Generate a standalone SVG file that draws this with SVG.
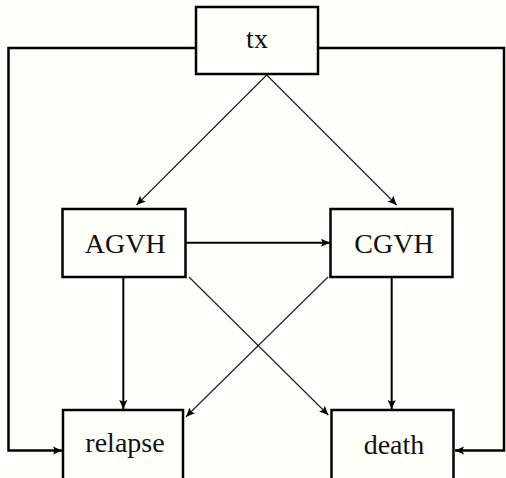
<svg xmlns="http://www.w3.org/2000/svg" width="506" height="478" viewBox="0 0 506 478">
<defs>
<style>
.box{fill:#fffffa;stroke:#000;stroke-width:2.5}
.lbl{font-family:"Liberation Serif","Times New Roman",serif;font-size:28px;fill:#111;text-anchor:middle}
.thick{fill:none;stroke:#000;stroke-width:2.5}
.med{fill:none;stroke:#000;stroke-width:2}
.thin{fill:none;stroke:#222;stroke-width:1.2}
</style>
<marker id="ah" viewBox="0 0 10 10" refX="10" refY="5" markerWidth="9" markerHeight="9" markerUnits="userSpaceOnUse" orient="auto">
<path d="M0,0.5 L10,5 L0,9.5 L2,5 Z" fill="#000"/>
</marker>
</defs>
<rect x="0" y="0" width="506" height="478" fill="#fffffa"/>
<g id="connectors">
<polyline class="thick" points="196,48 8.5,48 8.5,450.5 62,450.5" marker-end="url(#ah)"/>
<polyline class="thick" points="318,48 504,48 504,450.5 455,450.5" marker-end="url(#ah)"/>
<line class="thin" x1="266.7" y1="75" x2="136.5" y2="205" marker-end="url(#ah)"/>
<line class="thin" x1="266.7" y1="75" x2="396.7" y2="205" marker-end="url(#ah)"/>
<line class="med" x1="186" y1="242.7" x2="330" y2="242.7" marker-end="url(#ah)"/>
<line class="med" x1="123.3" y1="277" x2="123.3" y2="409" marker-end="url(#ah)"/>
<line class="med" x1="391.7" y1="277" x2="391.7" y2="409" marker-end="url(#ah)"/>
<line class="thin" x1="189" y1="277" x2="328.3" y2="415" marker-end="url(#ah)"/>
<line class="thin" x1="328" y1="277" x2="186" y2="416.7" marker-end="url(#ah)"/>
</g>
<g id="tx">
<rect class="box" x="196" y="7" width="122" height="67"/>
<text class="lbl" x="257" y="48.3">tx</text>
</g>
<g id="AGVH">
<rect class="box" x="62.5" y="209" width="123" height="68"/>
<text class="lbl" x="125.3" y="253.3">AGVH</text>
</g>
<g id="CGVH">
<rect class="box" x="330.5" y="209" width="122" height="68"/>
<text class="lbl" x="394" y="253.3">CGVH</text>
</g>
<g id="relapse">
<rect class="box" x="63" y="410" width="120" height="80"/>
<text class="lbl" x="125" y="451.7">relapse</text>
</g>
<g id="death">
<rect class="box" x="331.5" y="410" width="122" height="80"/>
<text class="lbl" x="394" y="454">death</text>
</g>
</svg>
